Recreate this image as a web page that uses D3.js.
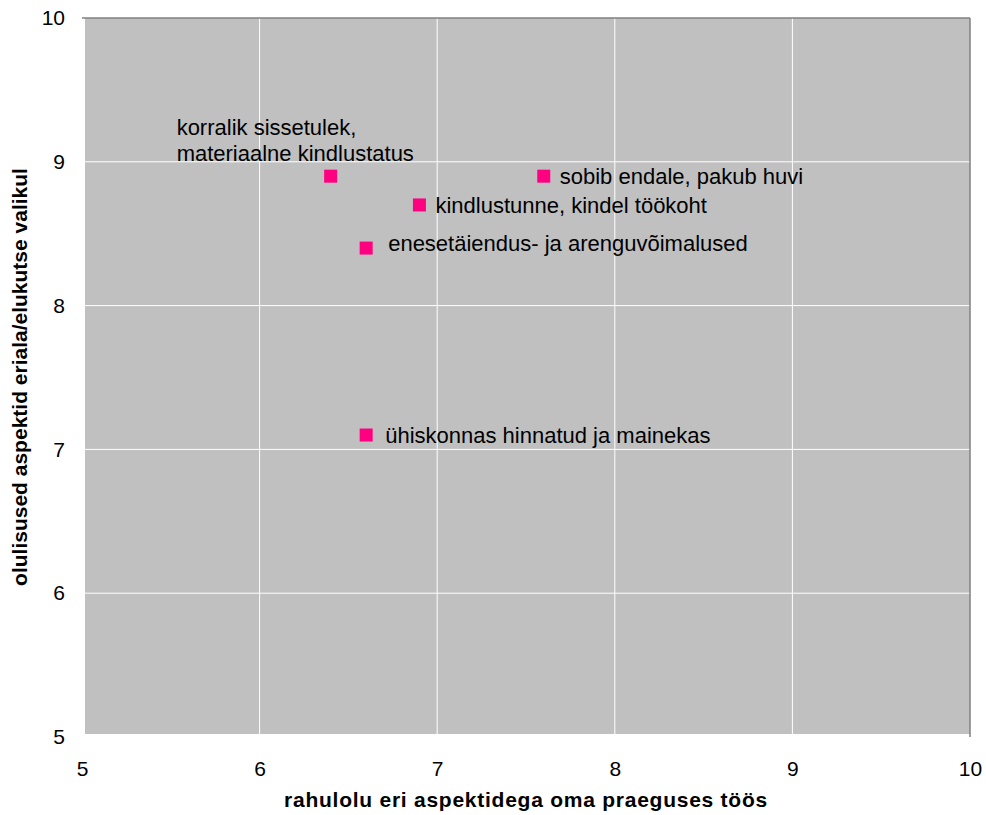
<!DOCTYPE html>
<html>
<head>
<meta charset="utf-8">
<script src="https://cdn.jsdelivr.net/npm/d3@7"></script>
<style>
  body { margin: 0; background: #fff; }
  text { font-family: "Liberation Sans", Arial, sans-serif; fill: #000; }
</style>
</head>
<body>
<svg id="chart" width="986" height="815"></svg>
<script>
const width = 986;
const height = 815;
const svg = d3.select("#chart");

// data
const labels = ["korralik sissetulek,\nmateriaalne kindlustatus", "sobib endale, pakub huvi",
    "kindlustunne, kindel töökoht", "enesetäiendus- ja arenguvõimalused",
    "ühiskonnas hinnatud ja mainekas"];
const satisfaction = [6.4, 7.6, 6.9, 6.6, 6.6];
const importance = [8.9, 8.9, 8.7, 8.4, 7.1];
const xTicks = [5, 6, 7, 8, 9, 10];
const yTicks = [5, 6, 7, 8, 9, 10];

const points = labels.map((l, i) => ({ label: l, x: satisfaction[i], y: importance[i] }));

const margin = { left: 82, right: 16, top: 18, bottom: 78 };
const x = d3.scaleLinear().domain([5, 10]).range([margin.left, width - margin.right]);
const y = d3.scaleLinear().domain([5, 10]).range([height - margin.bottom, margin.top]);

// plot area
svg.append("rect")
    .attr("x", x(5) + 3)
    .attr("y", y(10))
    .attr("width", x(10) - x(5) - 3)
    .attr("height", y(5) - y(10) - 3)
    .attr("fill", "#c0c0c0");

// gridlines
svg.append("g").selectAll("line")
    .data(xTicks.filter(d => d > 5 && d < 10))
    .enter().append("line")
    .attr("x1", d => x(d)).attr("x2", d => x(d))
    .attr("y1", y(10)).attr("y2", y(5) - 3)
    .attr("stroke", "#fff").attr("stroke-width", 1);

svg.append("g").selectAll("line")
    .data(yTicks.filter(d => d > 5 && d < 10))
    .enter().append("line")
    .attr("x1", x(5) + 3).attr("x2", x(10))
    .attr("y1", d => y(d)).attr("y2", d => y(d))
    .attr("stroke", "#fff").attr("stroke-width", 1);

// top and right border
svg.append("line")
    .attr("x1", x(5)).attr("x2", x(10))
    .attr("y1", y(10)).attr("y2", y(10))
    .attr("stroke", "#808080").attr("stroke-width", 1.5);
svg.append("line")
    .attr("x1", x(10)).attr("x2", x(10))
    .attr("y1", y(10)).attr("y2", y(5))
    .attr("stroke", "#808080").attr("stroke-width", 1.5);

// axes
const xAxis = svg.append("g")
    .attr("transform", "translate(0," + y(5) + ")")
    .call(d3.axisBottom(x).tickValues(xTicks).tickFormat(d3.format("d")).tickSize(0).tickPadding(24));
xAxis.select(".domain").remove();
xAxis.selectAll("text").style("font-size", "21px").attr("font-family", null);

const yAxis = svg.append("g")
    .attr("transform", "translate(" + x(5) + ",0)")
    .call(d3.axisLeft(y).tickValues(yTicks).tickFormat(d3.format("d")).tickSize(0).tickPadding(17));
yAxis.select(".domain").remove();
yAxis.selectAll("text").style("font-size", "21px").attr("font-family", null);

// axis titles
svg.append("text")
    .attr("x", 526)
    .attr("y", 807)
    .attr("text-anchor", "middle")
    .style("font-size", "21px")
    .style("font-weight", "bold")
    .style("letter-spacing", "0.75px")
    .text("rahulolu eri aspektidega oma praeguses töös");

svg.append("text")
    .attr("transform", "translate(27,377) rotate(-90)")
    .attr("text-anchor", "middle")
    .style("font-size", "21px")
    .style("font-weight", "bold")
    .text("olulisused aspektid eriala/elukutse valikul");

// markers
const ms = 13;
svg.append("g").selectAll("rect")
    .data(points)
    .enter().append("rect")
    .attr("x", d => x(d.x) - ms / 2)
    .attr("y", d => y(d.y) - ms / 2)
    .attr("width", ms)
    .attr("height", ms)
    .attr("fill", "#ff0080");

// labels
const labelOffsets = [[-154, -49], [16, 0], [16, 0], [22, -5], [19, 0]];
points.forEach((d, i) => {
    const lines = d.label.split("\n");
    const lx = x(d.x) + labelOffsets[i][0];
    const t = svg.append("text")
        .style("font-size", "22px");
    lines.forEach((l, j) => {
        t.append("tspan")
            .attr("x", lx)
            .attr("y", y(d.y) + labelOffsets[i][1] + j * 26)
            .attr("dy", "0.35em")
            .text(l);
    });
});
</script>
</body>
</html>
